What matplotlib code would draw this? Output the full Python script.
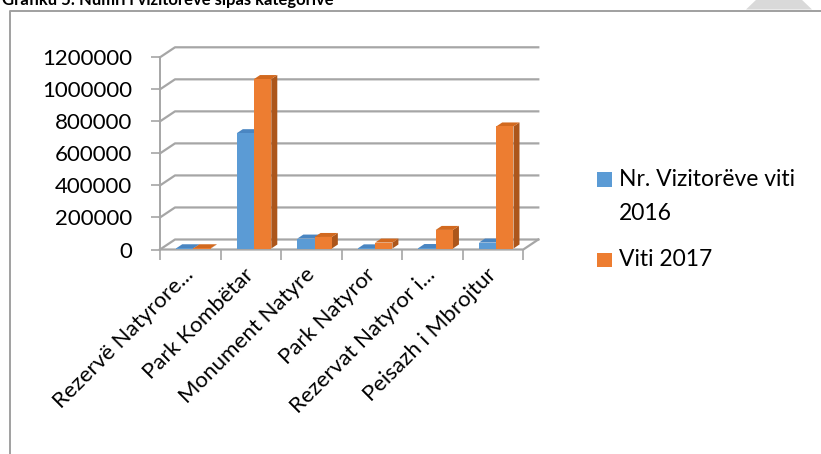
import matplotlib
matplotlib.use("Agg")
import matplotlib.pyplot as plt
from matplotlib.patches import Polygon, Rectangle
from matplotlib.lines import Line2D
from matplotlib.transforms import Affine2D, IdentityTransform
import numpy as np

# ---------------- data ----------------
title = "Grafiku 5: Numri i vizitorëve sipas kategorive"
categories = ["Rezervë Natyrore...", "Park Kombëtar", "Monument Natyre",
              "Park Natyror", "Rezervat Natyror i...", "Peisazh i Mbrojtur"]
series_names = ["Nr. Vizitorëve viti\n2016", "Viti 2017"]
visitors_2016 = [1500, 720000, 62000, 1000, 3000, 37000]
visitors_2017 = [1500, 1058000, 72000, 37000, 116000, 762000]
yticks = [0, 200000, 400000, 600000, 800000, 1000000, 1200000]

# ---------------- style ----------------
plt.rcParams['font.family'] = ['Lato', 'DejaVu Sans']
W, H = 821, 454
FS = 16
GRID = '#a6a6a6'
front_cols = ['#5B9BD5', '#ED7D31']
top_cols = ['#4a86c2', '#d2691f']
side_cols = ['#3f72a6', '#ac561b']
BACK = (15, 10)      # depth of back wall in pixels
BAR_OFF = (2, 1)     # bar front plane offset
BAR_D = (6, 4)       # bar depth

fig = plt.figure(figsize=(W / 100, H / 100), dpi=100)

# overlay axes in pixel coordinates (y downward)
ov = fig.add_axes([0, 0, 1, 1], zorder=0)
ov.set_xlim(0, W)
ov.set_ylim(H, 0)
ov.axis('off')

# outer frame (left + top only visible)
ov.plot([10, 10, W + 5], [H + 5, 10.5, 10.5], color='#a0a0a0', lw=1.4, clip_on=False)
# watermark-ish grey shape at top-right
ov.add_patch(Polygon([[746, 9.5], [812, 9.5], [800, -2], [758, -2]], closed=True,
                     facecolor='#d9d9d9', edgecolor='none', clip_on=False))
# title (cropped at the top edge as in the reference)
ov.text(2, 5, title, fontsize=12, fontweight='bold', ha='left', va='baseline',
        color='black')

# main (front plane) axes
y0_px, ytop_px = 249.5, 57.3
x0_px, x1_px = 160, 523.3
ax = fig.add_axes([x0_px / W, (H - y0_px) / H, (x1_px - x0_px) / W, (y0_px - ytop_px) / H],
                  zorder=1)
ax.patch.set_visible(False)
ax.set_xlim(0, len(categories))
ax.set_ylim(0, 1200000)
for s in ['top', 'right', 'bottom']:
    ax.spines[s].set_visible(False)
ax.spines['left'].set_color(GRID)
ax.spines['left'].set_linewidth(1.4)

ax.set_yticks(yticks, [str(v) for v in yticks], fontsize=FS)
ax.tick_params(axis='y', length=6.5, width=1.2, color=GRID, pad=13.5)
ax.set_xticks(np.arange(len(categories) + 1))
ax.set_xticklabels([])
ax.tick_params(axis='x', which='major', length=7, width=1.2, color=GRID)

T = ax.transData
ident = IdentityTransform()

# category labels, rotated 45 degrees
lab_tr = T + Affine2D().translate(7, -15)
for i, cat in enumerate(categories):
    ax.text(i + 0.5, 0, cat, transform=lab_tr, rotation=45, ha='right', va='top',
            fontsize=FS, clip_on=False)

def disp(x, y):
    return np.array(T.transform((x, y)))

ncat = len(categories)
# gridlines: diagonal on left wall + horizontal on back wall
for v in yticks:
    p0 = disp(0, v)
    p1 = p0 + BACK
    p2 = disp(ncat, v) + BACK
    fig.add_artist(Line2D([p0[0], p1[0], p2[0]], [p0[1], p1[1], p2[1]],
                          transform=ident, color=GRID, lw=1.6, zorder=2))
# floor outline
f0 = disp(0, 0); f1 = disp(ncat, 0)
fig.add_artist(Line2D([f0[0], f1[0], f1[0] + BACK[0]], [f0[1], f1[1], f1[1] + BACK[1]],
                      transform=ident, color=GRID, lw=1.6, zorder=2))

# bars
width = 0.285
series = [visitors_2016, visitors_2017]
for i in range(ncat):
    for s, vals in enumerate(series):
        xc = i + 0.5 + 0.02 + (s - 0.5) * width
        xa, xb = xc - width / 2, xc + width / 2
        v = vals[i]
        a = disp(xa, 0) + BAR_OFF
        b = disp(xb, 0) + BAR_OFF
        c = disp(xb, v) + BAR_OFF
        d = disp(xa, v) + BAR_OFF
        dd = np.array(BAR_D)
        side = [b, c, c + dd, b + dd]
        top = [d, c, c + dd, d + dd]
        front = [a, b, c, d]
        z = 3 + i * 0.1 + s * 0.01
        fig.add_artist(Polygon(side, closed=True, transform=ident, facecolor=side_cols[s],
                               edgecolor='none', zorder=z))
        fig.add_artist(Polygon(top, closed=True, transform=ident, facecolor=top_cols[s],
                               edgecolor='none', zorder=z + 0.001))
        fig.add_artist(Polygon(front, closed=True, transform=ident, facecolor=front_cols[s],
                               edgecolor='none', zorder=z + 0.002))

# legend (manual, to mimic wrapped Excel legend)
leg_sq = [(597, 172), (597, 252.5)]
leg_txt = [(619, 186), (619, 266.5)]
for s in range(2):
    ov.add_patch(Rectangle(leg_sq[s], 14.5, 14.5, facecolor=front_cols[s], edgecolor='none'))
    lines = series_names[s].split('\n')
    for k, line in enumerate(lines):
        ov.text(leg_txt[s][0], leg_txt[s][1] + 34 * k, line, fontsize=16.5,
                ha='left', va='baseline')

fig.savefig("out.png", dpi=100)
